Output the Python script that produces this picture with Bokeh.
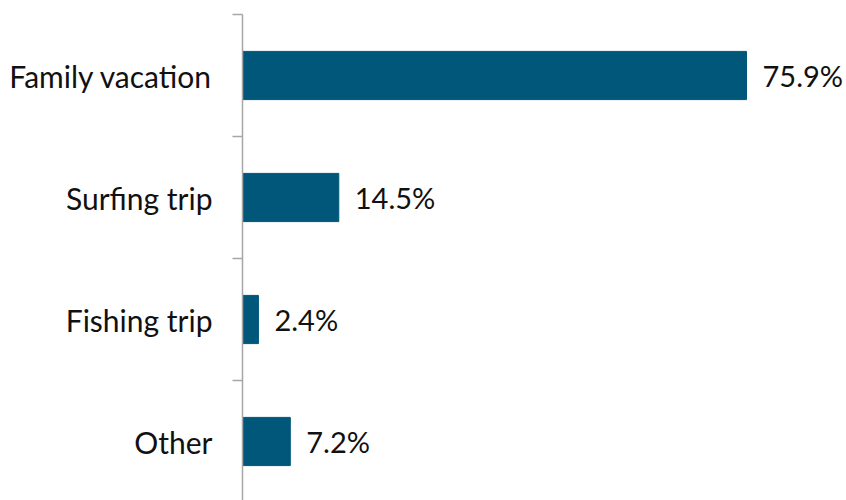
from bokeh.plotting import figure
from bokeh.models import FixedTicker, ColumnDataSource, Range1d, LabelSet
from bokeh.core.properties import value
from bokeh.embed import file_html
from bokeh.resources import INLINE

categories = ["Family vacation", "Surfing trip", "Fishing trip", "Other"]
values = [75.9, 14.5, 2.4, 7.2]
value_labels = ["75.9%", "14.5%", "2.4%", "7.2%"]

n = len(categories)
# position: first category at top
ypos = [n - i - 0.5 for i in range(n)]

FONT = "Lato"
BAR_COLOR = "#00577A"

W = 846
H = 500
TOP = 14
LEFT = 242
slot_px = 122.0
frame_h = H - TOP
frame_w = W - LEFT
p = figure(width=W, height=H, output_backend="svg", toolbar_location=None,
           x_range=Range1d(0, 75.9 * frame_w / 504.0),
           y_range=Range1d(n - frame_h / slot_px, n),
           min_border_left=LEFT, min_border_right=0, min_border_top=TOP, min_border_bottom=0)
p.outline_line_color = None
p.xgrid.visible = False
p.ygrid.visible = False
p.xaxis.visible = False

src = ColumnDataSource(dict(y=ypos, v=values, lab=value_labels, cat=categories))
p.hbar(y="y", right="v", left=0, height=0.395, source=src, fill_color=BAR_COLOR,
       line_color=BAR_COLOR)
labels = LabelSet(x="v", y="y", text="lab", source=src, x_offset=16, text_baseline="middle",
                  text_align="left", text_font=value(FONT), text_font_size=value("29px"),
                  text_color=value("#111111"))
p.add_layout(labels)

ax = p.yaxis[0]
ax.ticker = FixedTicker(ticks=ypos, minor_ticks=list(range(0, n + 1)))
ax.major_label_overrides = {y: c for y, c in zip(ypos, categories)}
ax.major_tick_out = 0
ax.major_tick_in = 0
ax.minor_tick_out = 10
ax.minor_tick_in = 0
ax.minor_tick_line_color = "#A6A6A6"
ax.axis_line_color = "#A6A6A6"
ax.axis_line_width = 1.5
ax.minor_tick_line_width = 1.5
ax.major_label_standoff = 20
ax.major_label_text_font = FONT
ax.major_label_text_font_size = "30px"
ax.major_label_text_color = "#111111"

open("out.html", "w").write(file_html(p, INLINE))
